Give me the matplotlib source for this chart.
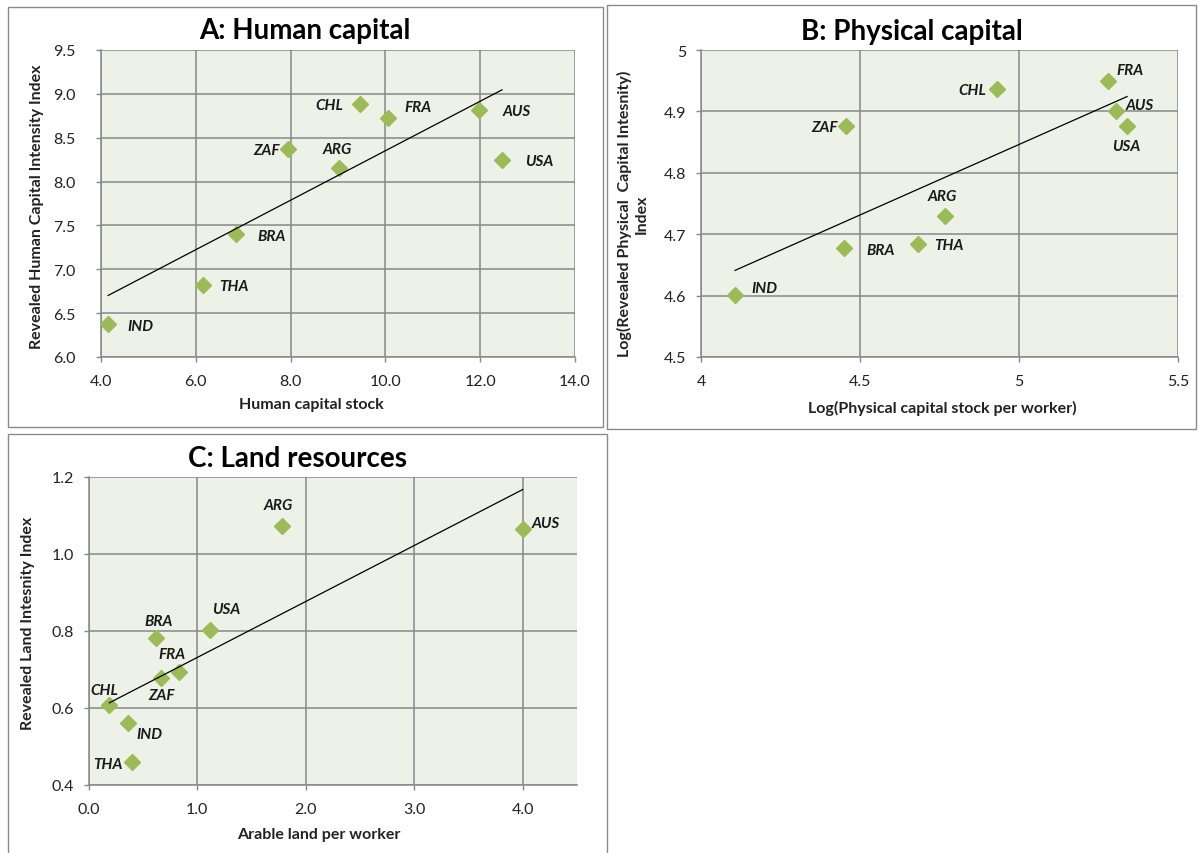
import numpy as np
import matplotlib
matplotlib.use("Agg")
import matplotlib.pyplot as plt
from matplotlib.patches import Rectangle
from matplotlib.ticker import FormatStrFormatter, FuncFormatter

# ---- data ----
HUMAN_COUNTRIES = ["IND", "THA", "BRA", "ZAF", "ARG", "CHL", "FRA", "AUS", "USA"]
HUMAN_STOCK = [4.15, 6.15, 6.84, 7.94, 9.03, 9.46, 10.06, 11.98, 12.46]
HUMAN_INDEX = [6.38, 6.82, 7.40, 8.37, 8.15, 8.88, 8.73, 8.82, 8.25]

PHYS_COUNTRIES = ["IND", "BRA", "ZAF", "THA", "ARG", "CHL", "FRA", "AUS", "USA"]
PHYS_STOCK = [4.107, 4.449, 4.456, 4.682, 4.768, 4.931, 5.280, 5.306, 5.340]
PHYS_INDEX = [4.601, 4.677, 4.876, 4.684, 4.730, 4.936, 4.949, 4.900, 4.876]

LAND_COUNTRIES = ["CHL", "IND", "THA", "BRA", "ZAF", "FRA", "USA", "ARG", "AUS"]
LAND_PER_WORKER = [0.19, 0.359, 0.402, 0.618, 0.668, 0.829, 1.12, 1.785, 4.00]
LAND_INDEX = [0.609, 0.562, 0.459, 0.783, 0.677, 0.694, 0.802, 1.072, 1.064]

# label placement: (dx px, dy px up, ha)
HUMAN_LABELS = {
    "IND": (19, -2, "left"), "THA": (16, -1, "left"), "BRA": (22, -2, "left"),
    "ZAF": (-8, -1, "right"), "ARG": (-2, 19, "center"), "CHL": (-17, -1, "right"),
    "FRA": (16, 11, "left"), "AUS": (23, -1, "left"), "USA": (23, -1, "left"),
}
PHYS_LABELS = {
    "IND": (16, 7, "left"), "BRA": (23, -2, "left"), "ZAF": (-8, -1, "right"),
    "THA": (16, -1, "left"), "ARG": (-3, 20, "center"), "CHL": (-11, -1, "right"),
    "FRA": (8, 11, "left"), "AUS": (9, 6, "left"), "USA": (-1, -20, "center"),
}
LAND_LABELS = {
    "CHL": (-5, 15, "center"), "IND": (9, -11, "left"), "THA": (-10, -2, "right"),
    "BRA": (3, 17, "center"), "ZAF": (0, -17, "center"), "FRA": (-7, 18, "center"),
    "USA": (16, 21, "center"), "ARG": (-4, 21, "center"), "AUS": (9, 6, "left"),
}

W, H = 1198, 854
FONT = "Lato"
PLOT_BG = "#EEF1E8"
GRID = "#888888"
MARKER = "#9BBB59"
PX = 72 / 100
TITLE_SIZE = 20
AXLABEL_SIZE = 11.5
TICK_SIZE = 11.5
POINT_SIZE = 11


def frac_rect(x0, y0, x1, y1):
    return [x0 / W, 1 - y1 / H, (x1 - x0) / W, (y1 - y0) / H]


def style_axes(ax, fmt_x, fmt_y, ypad):
    ax.set_facecolor(PLOT_BG)
    ax.grid(True, color=GRID, linewidth=1.1)
    ax.set_axisbelow(True)
    for side in ["top", "right"]:
        ax.spines[side].set_visible(False)
    for side in ["left", "bottom"]:
        ax.spines[side].set_color(GRID)
        ax.spines[side].set_linewidth(1.1)
    ax.tick_params(axis="both", direction="out", length=3.6, width=1.0, color=GRID,
                   labelsize=TICK_SIZE, labelcolor="#222222")
    ax.tick_params(axis="y", pad=ypad)
    ax.tick_params(axis="x", pad=9)
    ax.xaxis.set_major_formatter(fmt_x)
    ax.yaxis.set_major_formatter(fmt_y)
    for lab in ax.get_xticklabels() + ax.get_yticklabels():
        lab.set_fontfamily(FONT)


def scatter_panel(ax, names, xs, ys, offsets):
    xs = np.asarray(xs)
    ys = np.asarray(ys)
    ax.plot(xs, ys, linestyle="none", marker="D", markersize=8, color=MARKER,
            markeredgecolor=MARKER, zorder=3)
    slope, icept = np.polyfit(xs, ys, 1)
    lx = np.array([xs.min(), xs.max()])
    ax.plot(lx, slope * lx + icept, color="black", linewidth=0.9, zorder=4)
    for n, x, y in zip(names, xs, ys):
        dx, dy, ha = offsets[n]
        ax.annotate(n, (x, y), xytext=(dx * PX, dy * PX), textcoords="offset points",
                    ha=ha, va="center", fontsize=POINT_SIZE, fontweight="bold",
                    fontstyle="italic", family=FONT, color="#1A1A1A", zorder=5)


def axis_text(x, y, s, rot=0, **kw):
    fig.text(x / W, 1 - y / H, s, ha="center", va="center", rotation=rot,
             fontsize=AXLABEL_SIZE, fontweight="bold", family=FONT, color="#222222", **kw)


def title_text(x, y, s):
    fig.text(x / W, 1 - y / H, s, ha="center", va="center",
             fontsize=TITLE_SIZE, fontweight="bold", family=FONT, color="black")


g_fmt = FuncFormatter(lambda v, p: f"{v:g}")

fig = plt.figure(figsize=(W / 100, H / 100), dpi=100)

# panel frames
for x0, y0, x1, y1 in [(8, 8, 603, 428), (607, 6, 1196, 430), (8, 435, 607, 860)]:
    fig.add_artist(Rectangle((x0 / W, 1 - y1 / H), (x1 - x0) / W, (y1 - y0) / H,
                             transform=fig.transFigure, fill=False,
                             edgecolor="#8A8A8A", linewidth=1.0))

# A: Human capital
axA = fig.add_axes(frac_rect(101, 51, 575, 358))
scatter_panel(axA, HUMAN_COUNTRIES, HUMAN_STOCK, HUMAN_INDEX, HUMAN_LABELS)
axA.set_xlim(4, 14)
axA.set_ylim(6, 9.5)
axA.set_xticks(np.arange(4, 14.1, 2))
axA.set_yticks(np.arange(6, 9.51, 0.5))
style_axes(axA, FormatStrFormatter("%.1f"), FormatStrFormatter("%.1f"), 15)
title_text(305, 31, "A: Human capital")
axis_text(311, 405, "Human capital stock")
axis_text(37, 207, "Revealed Human Capital Intensity Index", rot=90)

# B: Physical capital
axB = fig.add_axes(frac_rect(701, 51, 1178, 358))
scatter_panel(axB, PHYS_COUNTRIES, PHYS_STOCK, PHYS_INDEX, PHYS_LABELS)
axB.set_xlim(4, 5.5)
axB.set_ylim(4.5, 5.0)
axB.set_xticks(np.arange(4, 5.51, 0.5))
axB.set_yticks(np.arange(4.5, 5.01, 0.1))
style_axes(axB, g_fmt, g_fmt, 7)
title_text(912, 32, "B: Physical capital")
axis_text(942, 408, "Log(Physical capital stock per worker)")
axis_text(633, 214, "Log(Revealed Physical  Capital Intesnity)\nIndex", rot=90,
          linespacing=1.2)

# C: Land resources
axC = fig.add_axes(frac_rect(88.7, 478, 577, 786))
scatter_panel(axC, LAND_COUNTRIES, LAND_PER_WORKER, LAND_INDEX, LAND_LABELS)
axC.set_xlim(0, 4.5)
axC.set_ylim(0.4, 1.2)
axC.set_xticks(np.arange(0, 4.01, 1.0))
axC.set_yticks(np.arange(0.4, 1.21, 0.2))
style_axes(axC, FormatStrFormatter("%.1f"), FormatStrFormatter("%.1f"), 7)
title_text(298, 459, "C: Land resources")
axis_text(319, 835, "Arable land per worker")
axis_text(28, 623, "Revealed Land Intesnity Index", rot=90)

fig.savefig("out.png", dpi=100)
